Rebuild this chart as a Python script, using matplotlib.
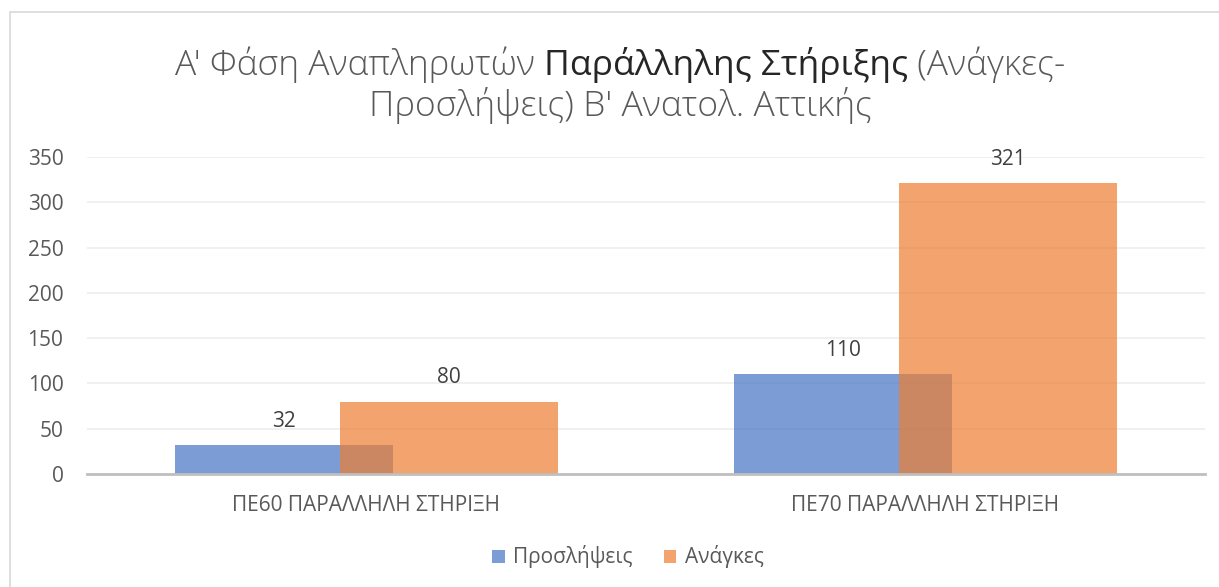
"""
Overlapping bar chart: hires vs needs for parallel support (Greek labels).
"""

import numpy as np
import matplotlib
matplotlib.use("Agg")
import matplotlib.pyplot as plt
from matplotlib.patches import Rectangle

plt.rcParams['font.family'] = ['Open Sans', 'DejaVu Sans']

# data
categories = ['ΠΕ60 ΠΑΡΑΛΛΗΛΗ ΣΤΗΡΙΞΗ', 'ΠΕ70 ΠΑΡΑΛΛΗΛΗ ΣΤΗΡΙΞΗ']
hires = [32, 110]
needs = [80, 321]
series_names = ['Προσλήψεις', 'Ανάγκες']
y_ticks = [0, 50, 100, 150, 200, 250, 300, 350]

title_line1 = [('Α\' Φάση Αναπληρωτών ', 'light', '#595959'),
               ('Παράλληλης Στήριξης', 'normal', '#262626'),
               (' (Ανάγκες-', 'light', '#595959')]
title_line2 = [('Προσλήψεις) Β\' Ανατολ. Αττικής', 'light', '#595959')]

blue = '#4472C4'
orange = '#ED7D31'
text_gray = '#595959'

fig = plt.figure(figsize=(12.19, 5.87), dpi=100)
fig.patch.set_facecolor('white')

# chart frame (only left/top edges are visible in the reference crop)
fig.patches.append(Rectangle((10 / 1219, -0.1), 1.2, 1 - 12 / 587 + 0.1,
                             transform=fig.transFigure, fill=False,
                             edgecolor='#D9D9D9', linewidth=1.2))

ax = fig.add_axes([87 / 1219, 1 - 474 / 587, (1205 - 87) / 1219, (474 - 157) / 587])

x = np.arange(len(categories))
width = 0.39
offset = 0.147
b1 = ax.bar(x - offset, hires, width, color=blue, alpha=0.7, zorder=3, label=series_names[0])
b2 = ax.bar(x + offset, needs, width, color=orange, alpha=0.7, zorder=4, label=series_names[1])

for bars, vals in ((b1, hires), (b2, needs)):
    for rect, v in zip(bars, vals):
        ax.annotate(str(v), (rect.get_x() + rect.get_width() / 2, v),
                    xytext=(0, 17), textcoords='offset points',
                    ha='center', va='center', fontsize=15, color='#404040')

ax.set_xlim(-0.5, 1.5)
ax.set_ylim(0, 350)
ax.set_yticks(y_ticks)
ax.set_xticks(x)
ax.set_xticklabels(categories)
ax.tick_params(axis='both', length=0, labelsize=15, labelcolor=text_gray)
ax.tick_params(axis='y', pad=17)
ax.tick_params(axis='x', pad=15)
ax.yaxis.grid(True, color='#EDEDED', linewidth=1.2, zorder=0)
ax.set_axisbelow(True)
for s in ['top', 'right', 'left']:
    ax.spines[s].set_visible(False)
ax.spines['bottom'].set_color('#BFBFBF')
ax.spines['bottom'].set_linewidth(2)
ax.spines['bottom'].set_zorder(5)

leg = fig.legend(handles=[b1, b2], labels=series_names, loc='center',
                 bbox_to_anchor=(628 / 1219, 1 - 557 / 587), ncol=2, frameon=False,
                 fontsize=15, handlelength=0.6, handleheight=0.6, handletextpad=0.4,
                 columnspacing=1.5, labelcolor=text_gray)

# title with mixed styles, each line centered
def draw_line(parts, y_px):
    fig.canvas.draw()
    r = fig.canvas.get_renderer()
    texts = []
    for s, w, c in parts:
        t = fig.text(0, 1 - y_px / 587, s, fontsize=25.5, fontweight=w, color=c,
                     ha='left', va='center')
        texts.append(t)
    widths = [t.get_window_extent(renderer=r).width for t in texts]
    total = sum(widths)
    start = (1219 / 2 + 11) - total / 2
    for t, w in zip(texts, widths):
        t.set_x(start / 1219)
        start += w

draw_line(title_line1, 65)
draw_line(title_line2, 105)

fig.savefig('out.png', dpi=100)
